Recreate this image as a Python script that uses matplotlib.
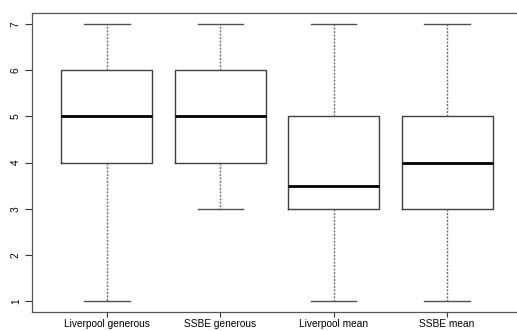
import matplotlib
matplotlib.use("Agg")
import matplotlib.pyplot as plt

plt.rcParams['font.family'] = ['Liberation Sans', 'DejaVu Sans']

labels = ["Liverpool generous", "SSBE generous", "Liverpool mean", "SSBE mean"]
whisker_low = [1, 3, 1, 1]
q1 = [4, 4, 3, 3]
medians = [5, 5, 3.5, 4]
q3 = [6, 6, 5, 5]
whisker_high = [7, 7, 7, 7]
y_ticks = [1, 2, 3, 4, 5, 6, 7]

stats = []
for i in range(len(labels)):
    stats.append({
        "label": labels[i],
        "whislo": whisker_low[i],
        "q1": q1[i],
        "med": medians[i],
        "q3": q3[i],
        "whishi": whisker_high[i],
        "fliers": [],
    })

fig = plt.figure(figsize=(5.17, 3.31), dpi=100)
ax = fig.add_axes([32 / 517, 18.7 / 331, 490 / 517, 299.6 / 331])

ax.bxp(stats, positions=[1, 2, 3, 4], widths=0.8, showfliers=False,
       boxprops=dict(color="#404040", linewidth=1.0),
       medianprops=dict(color="black", linewidth=2.0, solid_capstyle="butt"),
       whiskerprops=dict(color="#707070", linewidth=1.0, linestyle=(0, (1.5, 1))),
       capprops=dict(color="#505050", linewidth=1.0),
       capwidths=0.4)

ax.set_xlim(0.34, 4.66)
ax.set_ylim(0.76, 7.24)
ax.set_yticks(y_ticks)
ax.set_yticklabels([str(v) for v in y_ticks], rotation=90, va="center")
ax.set_xticks([1, 2, 3, 4])
ax.set_xticklabels(labels)
ax.tick_params(axis="both", labelsize=7.3, colors="#333333", labelcolor="black")
ax.tick_params(axis="y", length=5, pad=3)
ax.tick_params(axis="x", length=3.5, pad=1)
for s in ax.spines.values():
    s.set_color("#555555")
    s.set_linewidth(0.9)

fig.savefig("out.png", dpi=100)
